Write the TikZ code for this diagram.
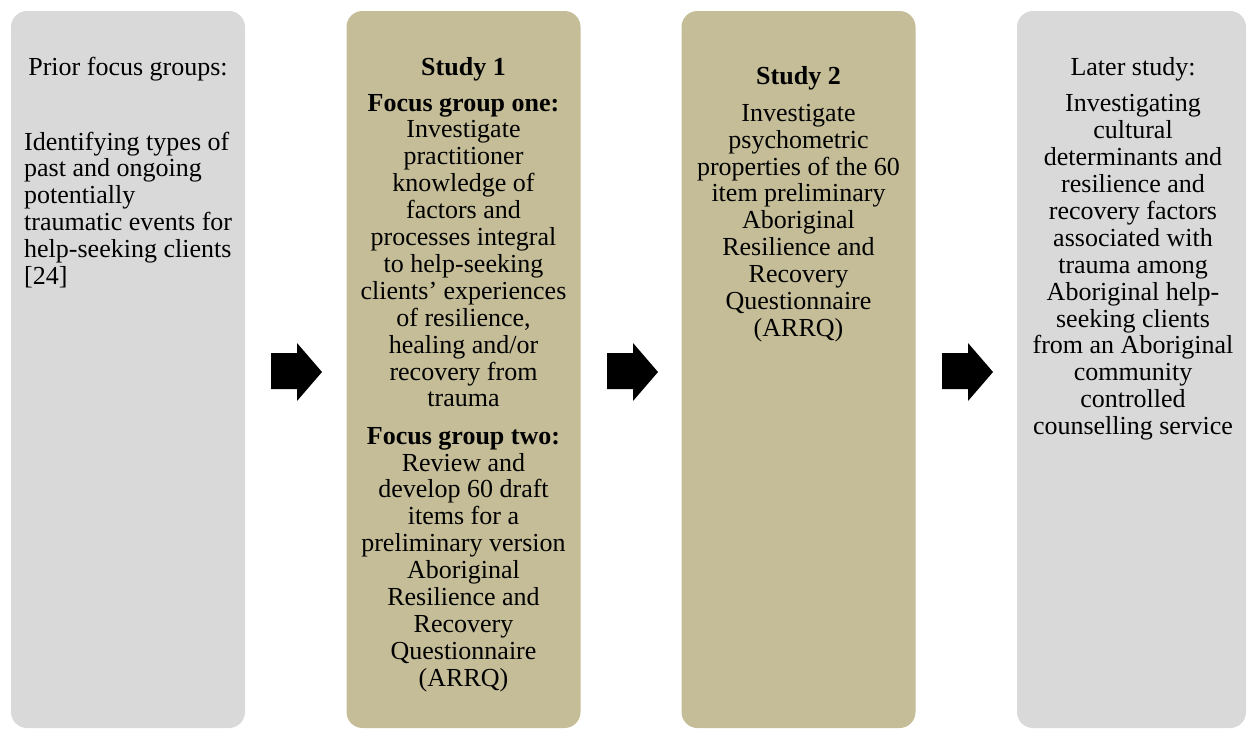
\documentclass[tikz,border=0pt]{standalone}
\usepackage{fontspec}
\setmainfont{Liberation Serif}
\definecolor{boxgray}{HTML}{D9D9D9}
\definecolor{boxtan}{HTML}{C4BD97}
\tikzset{
  panel/.style={rectangle, rounded corners=16pt, draw=none, inner sep=0pt,
    minimum width=234pt, minimum height=717pt},
  txt/.style={anchor=base, align=center, inner sep=0pt,
    font=\fontsize{26}{26.9}\selectfont},
  txtleft/.style={anchor=base west, align=left, inner sep=0pt,
    font=\fontsize{26}{26.9}\selectfont},
  blockarrow/.style={fill=black}
}
\begin{document}
\begin{tikzpicture}[x=1pt,y=-1pt]
\useasboundingbox (0,0) rectangle (1247,729);
% panels
\node[panel, fill=boxgray] (p1) at (128,369.5) {};
\node[panel, fill=boxtan]  (p2) at (463.5,369.5) {};
\node[panel, fill=boxtan]  (p3) at (798.5,369.5) {};
\node[panel, fill=boxgray, minimum width=229pt] (p4) at (1131.5,369.5) {};
% arrows
\fill[blockarrow] (271,353) -- (297,353) -- (297,343) -- (322,372) -- (297,401) -- (297,389) -- (271,389) -- cycle;
\fill[blockarrow] (607,353) -- (633,353) -- (633,343) -- (658,372) -- (633,401) -- (633,389) -- (607,389) -- cycle;
\fill[blockarrow] (942,353) -- (968,353) -- (968,343) -- (993,372) -- (968,401) -- (968,389) -- (942,389) -- cycle;
% panel 1 (base anchor = baseline of the last line)
\node[txt] (h1) at (128,75) {Prior focus groups:};
\node[txtleft] (t1) at (24,284.5) {Identifying types of\\past and ongoing\\potentially\\traumatic events for\\help-seeking clients\\{[24]}};
% panel 2
\node[txt] (h2) at (463.5,75) {\bfseries Study 1};
\node[txt] (t2a) at (463.5,406.9) {\textbf{Focus group one:}\\Investigate\\practitioner\\knowledge of\\factors and\\processes integral\\to help-seeking\\clients’ experiences\\of resilience,\\healing and/or\\recovery from\\trauma};
\node[txt] (t2b) at (463.5,686.2) {\textbf{Focus group two:}\\Review and\\develop 60 draft\\items for a\\preliminary version\\Aboriginal\\Resilience and\\Recovery\\Questionnaire\\(ARRQ)};
% panel 3
\node[txt] (h3) at (798.5,84.3) {\bfseries Study 2};
\node[txt] (t3) at (798.5,336.4) {Investigate\\psychometric\\properties of the 60\\item preliminary\\Aboriginal\\Resilience and\\Recovery\\Questionnaire\\(ARRQ)};
% panel 4
\node[txt] (h4) at (1133,75) {Later study:};
\node[txt] (t4) at (1133,434.6) {Investigating\\cultural\\determinants and\\resilience and\\recovery factors\\associated with\\trauma among\\Aboriginal help-\\seeking clients\\from an Aboriginal\\community\\controlled\\counselling service};
\end{tikzpicture}
\end{document}
